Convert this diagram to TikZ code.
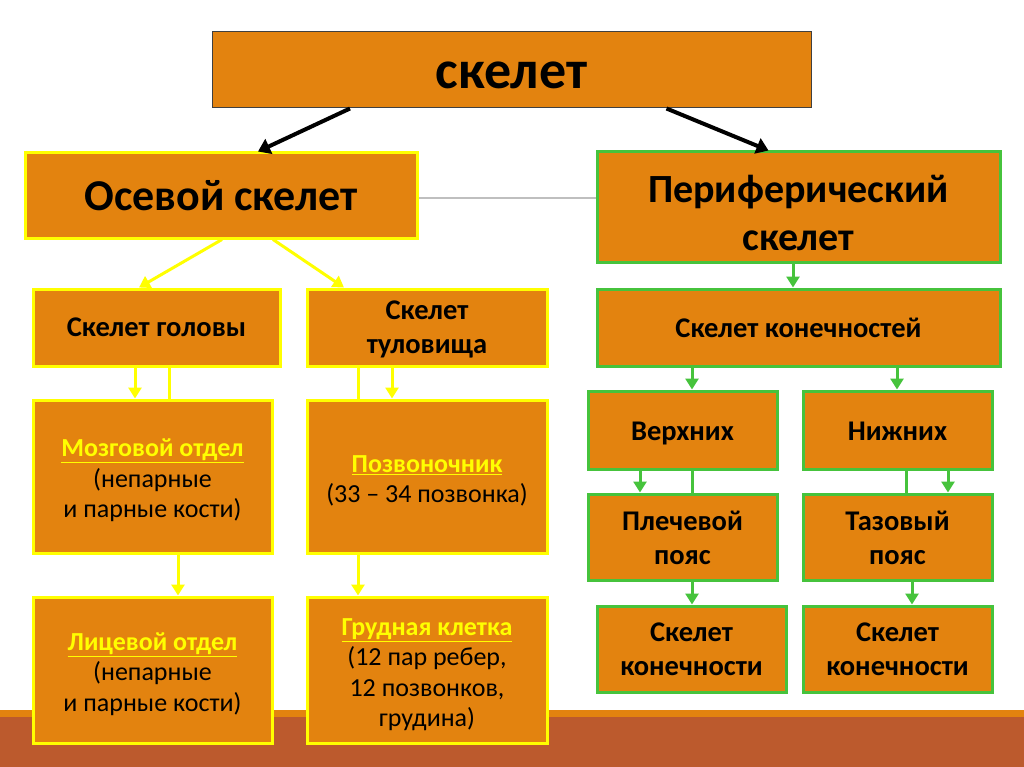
\documentclass[tikz,border=0pt]{standalone}
\usepackage{fontspec}
\setmainfont{Carlito}
\usetikzlibrary{arrows.meta}
\definecolor{boxfill}{HTML}{E3830F}
\definecolor{ybord}{HTML}{FFFF00}
\definecolor{gbord}{HTML}{46C33C}
\definecolor{bandD}{HTML}{BC5A2D}
\definecolor{bandO}{HTML}{E3830F}
\definecolor{grayln}{HTML}{BFBFBF}
\newcommand{\hlab}[1]{\textcolor{ybord}{\underline{#1}}}
\newcommand{\lowr}[1]{\rule{0pt}{#1}}
\tikzset{
  base/.style={rectangle, fill=boxfill, inner sep=0pt, align=center, text=black},
  ybox/.style={base, draw=ybord, line width=3pt},
  gbox/.style={base, draw=gbord, line width=3pt},
  tbox/.style={base, draw=black!75, line width=1pt},
  bigtxt/.style={font=\fontsize{54}{60}\selectfont\bfseries},
  ostxt/.style={font=\fontsize{44}{48}\selectfont\bfseries},
  midtxt/.style={font=\fontsize{40}{48}\selectfont\bfseries},
  smtxt/.style={font=\fontsize{28.5}{34}\selectfont\bfseries},
  bodytxt/.style={font=\fontsize{26}{30.5}\selectfont},
  karr/.style={draw=black, line width=4pt, -{Triangle[width=16pt,length=12pt]}},
  yarr/.style={draw=ybord, line width=3pt, -{Triangle[width=13pt,length=11pt]}},
  yline/.style={draw=ybord, line width=3pt},
  garr/.style={draw=gbord, line width=3pt, -{Triangle[width=13pt,length=11pt]}},
  gline/.style={draw=gbord, line width=3pt},
}
\begin{document}
\begin{tikzpicture}[x=1pt,y=-1pt]
\useasboundingbox (0,0) rectangle (1024,767);
\fill[white] (0,0) rectangle (1024,767);
\fill[bandO] (0,710) rectangle (1024,717);
\fill[bandD] (0,717) rectangle (1024,767);

\node[tbox, bigtxt, minimum width=599pt, minimum height=76pt] (top) at (511.5,70) {\lowr{38pt}скелет};
\node[ybox, ostxt, minimum width=392pt, minimum height=85pt] (os) at (221,195.5) {Осевой скелет};
\node[gbox, midtxt, minimum width=403pt, minimum height=110pt] (per) at (798.5,207) {\lowr{40pt}Периферический\\скелет};

\node[ybox, smtxt, minimum width=247pt, minimum height=77pt] (hd) at (156.5,327.5) {Скелет головы};
\node[ybox, smtxt, minimum width=240pt, minimum height=77pt] (tl) at (427,327.5) {\lowr{22pt}Скелет\\туловища};
\node[ybox, bodytxt, minimum width=239pt, minimum height=153pt] (mz) at (152.5,476.5) {\lowr{26pt}\textbf{\hlab{Мозговой отдел}}\\(непарные\\и парные кости)};
\node[ybox, bodytxt, minimum width=240pt, minimum height=153pt] (pz) at (427,476.5) {\lowr{26pt}\textbf{\hlab{Позвоночник}}\\(33 – 34 позвонка)};
\node[ybox, bodytxt, minimum width=239pt, minimum height=146pt] (lc) at (152.5,670) {\lowr{26pt}\textbf{\hlab{Лицевой отдел}}\\(непарные\\и парные кости)};
\node[ybox, bodytxt, minimum width=240pt, minimum height=146pt] (gr) at (427,670) {\lowr{26pt}\textbf{\hlab{Грудная клетка}}\\(12 пар ребер,\\12 позвонков,\\грудина)};

\node[gbox, smtxt, minimum width=403pt, minimum height=77pt] (kn) at (798.5,327.5) {Скелет конечностей};
\node[gbox, smtxt, minimum width=189pt, minimum height=78pt] (vr) at (682.5,430) {\lowr{26pt}Верхних};
\node[gbox, smtxt, minimum width=189pt, minimum height=78pt] (nz) at (897.5,430) {\lowr{22pt}Нижних};
\node[gbox, smtxt, minimum width=189pt, minimum height=86pt] (pl) at (682.5,537) {\lowr{22pt}Плечевой\\пояс};
\node[gbox, smtxt, minimum width=189pt, minimum height=86pt] (tz) at (897.5,537) {\lowr{22pt}Тазовый\\пояс};
\node[gbox, smtxt, minimum width=189pt, minimum height=86pt] (sk1) at (691.5,649) {Скелет\\конечности};
\node[gbox, smtxt, minimum width=189pt, minimum height=86pt] (sk2) at (897.5,649) {Скелет\\конечности};

\draw[grayln, line width=1.2pt] ([yshift=-2.5pt]os.east) -- ([yshift=-2.5pt]os.east -| per.west);

\draw[karr] ([xshift=-161.5pt]top.south) -- ([xshift=37pt]os.north);
\draw[karr] ([xshift=155pt]top.south) -- ([xshift=-30pt]per.north);

\draw[yarr] ([xshift=1pt]os.south) -- ([xshift=-17.5pt]hd.north);
\draw[yarr] ([xshift=52pt]os.south) -- ([xshift=-83pt]tl.north);

\draw[yarr] ([xshift=-21.5pt]hd.south) -- ([xshift=-21.5pt]hd.south |- mz.north);
\draw[yline] ([xshift=12.5pt]hd.south) -- ([xshift=12.5pt]hd.south |- mz.north);
\draw[yline] ([xshift=-69pt]tl.south) -- ([xshift=-69pt]tl.south |- pz.north);
\draw[yarr] ([xshift=-35pt]tl.south) -- ([xshift=-35pt]tl.south |- pz.north);
\draw[yarr] ([xshift=25.5pt]mz.south) -- ([xshift=25.5pt]mz.south |- lc.north);
\draw[yarr] ([xshift=-69pt]pz.south) -- ([xshift=-69pt]pz.south |- gr.north);

\draw[garr] ([xshift=-5.5pt]per.south) -- ([xshift=-5.5pt]per.south |- kn.north);
\draw[garr] ([xshift=-106.5pt]kn.south) -- ([xshift=-106.5pt]kn.south |- vr.north);
\draw[garr] ([xshift=98.5pt]kn.south) -- ([xshift=98.5pt]kn.south |- nz.north);
\draw[garr] ([xshift=-42.5pt]vr.south) -- ([xshift=-42.5pt]vr.south |- pl.north);
\draw[gline] ([xshift=9.5pt]vr.south) -- ([xshift=9.5pt]vr.south |- pl.north);
\draw[gline] ([xshift=8.5pt]nz.south) -- ([xshift=8.5pt]nz.south |- tz.north);
\draw[garr] ([xshift=50.5pt]nz.south) -- ([xshift=50.5pt]nz.south |- tz.north);
\draw[garr] ([xshift=9.5pt]pl.south) -- ([xshift=9.5pt]pl.south |- sk1.north);
\draw[garr] ([xshift=14.5pt]tz.south) -- ([xshift=14.5pt]tz.south |- sk2.north);
\end{tikzpicture}
\end{document}
